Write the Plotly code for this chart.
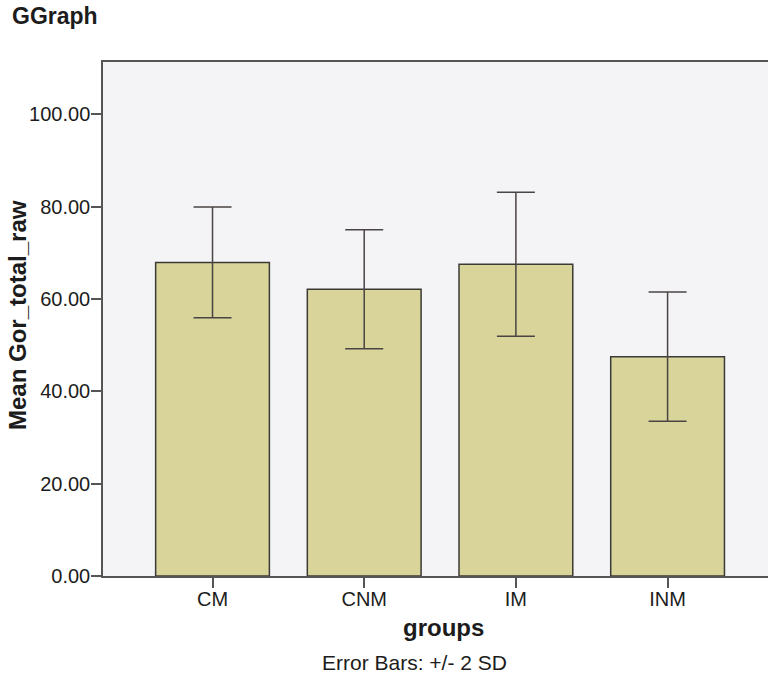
import plotly.graph_objects as go

# Group means and error bar half-widths (+/- 2 SD)
groups = ["CM", "CNM", "IM", "INM"]
means = [67.9, 62.1, 67.5, 47.5]
two_sd = [12.0, 12.9, 15.6, 14.0]
y_ticks = [0, 20, 40, 60, 80, 100]

W, H = 768, 674
L, R, T, B = 103, 0, 62, 98
PW, PH = W - L - R, H - T - B


def px(x, y):
    """Convert figure pixel coordinates to paper coordinates."""
    return (x - L) / PW, 1 - (y - T) / PH


fig = go.Figure()
fig.add_trace(go.Bar(
    x=list(range(len(groups))),
    y=means,
    width=0.75,
    marker=dict(color="#d8d49a", line=dict(color="#3c3a36", width=1.5)),
    error_y=dict(type="data", array=two_sd, visible=True,
                 color="#4a4444", thickness=1.5, width=19),
    hoverinfo="skip",
))

font_family = "Liberation Sans, Arial, sans-serif"
text_color = "#1c1c1c"

gx, gy = px(10, 16)
yx, yy = px(17, 315)
xx, xy = px(443, 627)
ex, ey = px(414, 662)

fig.update_layout(
    width=W, height=H,
    margin=dict(l=L, r=R, t=T, b=B),
    paper_bgcolor="white",
    plot_bgcolor="#f4f4f7",
    showlegend=False,
    font=dict(family=font_family, color=text_color),
    xaxis=dict(
        range=[-0.722, 3.662],
        tickmode="array",
        tickvals=list(range(len(groups))),
        ticktext=groups,
        ticks="outside", ticklen=10, tickcolor="#555555", tickwidth=1.5,
        ticklabelstandoff=-6,
        showline=True, linecolor="#555555", linewidth=1.5, mirror=True,
        showgrid=False, zeroline=False,
        tickfont=dict(size=20, color=text_color),
    ),
    yaxis=dict(
        range=[0, 111.3],
        tickmode="array",
        tickvals=y_ticks,
        tickformat=".2f",
        ticks="outside", ticklen=10, tickcolor="#555555", tickwidth=1.5,
        ticklabelstandoff=-3,
        showline=True, linecolor="#555555", linewidth=1.5,
        showgrid=False, zeroline=False,
        tickfont=dict(size=20, color=text_color),
    ),
    annotations=[
        dict(text="<b>GGraph</b>", x=gx, y=gy, xref="paper", yref="paper",
             showarrow=False, font=dict(size=23), xanchor="left", yanchor="middle"),
        dict(text="<b>Mean Gor_total_raw</b>", x=yx, y=yy, xref="paper", yref="paper",
             showarrow=False, font=dict(size=24), textangle=-90,
             xanchor="center", yanchor="middle"),
        dict(text="<b>groups</b>", x=xx, y=xy, xref="paper", yref="paper",
             showarrow=False, font=dict(size=24), xanchor="center", yanchor="middle"),
        dict(text="Error Bars: +/- 2 SD", x=ex, y=ey, xref="paper", yref="paper",
             showarrow=False, font=dict(size=21), xanchor="center", yanchor="middle"),
    ],
)

fig.write_html("out.html")
